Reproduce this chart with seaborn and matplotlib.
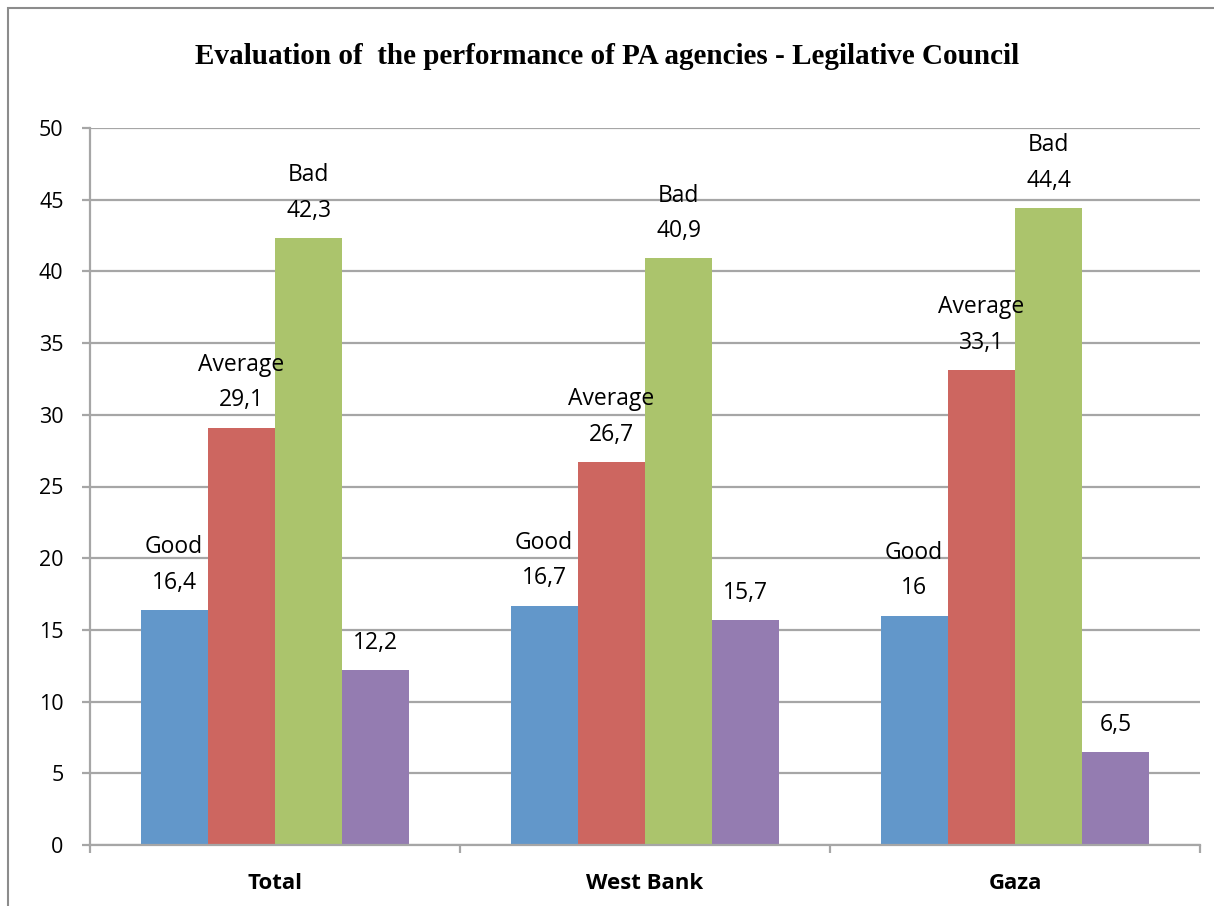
import pandas as pd
import matplotlib.pyplot as plt
import matplotlib.patches as patches
from matplotlib.ticker import MultipleLocator, FixedLocator
import seaborn as sns

# data
regions = ["Total", "West Bank", "Gaza"]
series = ["Good", "Average", "Bad", "Don't know"]
good = [16.4, 16.7, 16.0]
average = [29.1, 26.7, 33.1]
bad = [42.3, 40.9, 44.4]
dont_know = [12.2, 15.7, 6.5]
# which series show their name above the value
show_name = [True, True, True, False]

colors = ["#6297CA", "#CD6660", "#ABC46C", "#947CB1"]
grey = "#A6A6A6"


def fmt(v):
    s = "%g" % v
    return s.replace(".", ",")


if __name__ == "__main__":
    rows = []
    for name, vals in zip(series, [good, average, bad, dont_know]):
        for reg, v in zip(regions, vals):
            rows.append({"region": reg, "answer": name, "value": v})
    df = pd.DataFrame(rows)

    sns.set_style("white")
    plt.rcParams["font.family"] = ["Open Sans", "DejaVu Sans"]
    plt.rcParams["text.color"] = "black"
    plt.rcParams["xtick.labelcolor"] = "black"
    plt.rcParams["ytick.labelcolor"] = "black"

    fig = plt.figure(figsize=(12.14, 9.06), dpi=100)
    ax = fig.add_axes([90 / 1214, 61 / 906, 1110 / 1214, 717 / 906])

    sns.barplot(data=df, x="region", y="value", hue="answer", order=regions,
                hue_order=series, palette=colors, width=0.727, gap=0,
                saturation=1, linewidth=0, legend=False, ax=ax)

    # value labels
    for i, cont in enumerate(ax.containers):
        for bar, reg in zip(cont, regions):
            v = bar.get_height()
            txt = series[i] + "\n" + fmt(v) if show_name[i] else fmt(v)
            ax.annotate(txt, (bar.get_x() + bar.get_width() / 2, v),
                        xytext=(0, 11), textcoords="offset points",
                        ha="center", va="bottom", fontsize=16.5,
                        linespacing=1.65, color="black")

    ax.set_ylim(0, 50)
    ax.set_xlim(-0.5, 2.5)
    ax.yaxis.set_major_locator(MultipleLocator(5))
    ax.grid(axis="y", color=grey, linewidth=1.6)
    ax.set_axisbelow(True)

    for side in ["top", "right"]:
        ax.spines[side].set_visible(False)
    for side in ["left", "bottom"]:
        ax.spines[side].set_color(grey)
        ax.spines[side].set_linewidth(1.6)

    ax.set_xlabel("")
    ax.set_ylabel("")
    ax.tick_params(axis="y", length=6, width=1.6, color=grey, pad=13,
                   labelsize=15.5, left=True)
    ax.tick_params(axis="x", which="major", length=0, pad=20, labelsize=16)
    ax.xaxis.set_minor_locator(FixedLocator([-0.5, 0.5, 1.5, 2.5]))
    ax.tick_params(axis="x", which="minor", length=6, width=1.6, color=grey,
                   bottom=True)
    for lab in ax.get_xticklabels():
        lab.set_fontweight("bold")

    fig.text(0.5, 1 - 57 / 906,
             "Evaluation of  the performance of PA agencies - Legilative Council",
             ha="center", va="center", fontsize=21, fontweight="bold",
             family=["Liberation Serif", "DejaVu Serif"])

    # outer chart frame
    fig.patches.append(patches.Rectangle((8 / 1214, -0.02), 1.1, 1 - 8 / 906 + 0.02,
                                         transform=fig.transFigure, fill=False,
                                         edgecolor="#8C8C8C", linewidth=1.5))

    plt.savefig("out.png", dpi=100)
